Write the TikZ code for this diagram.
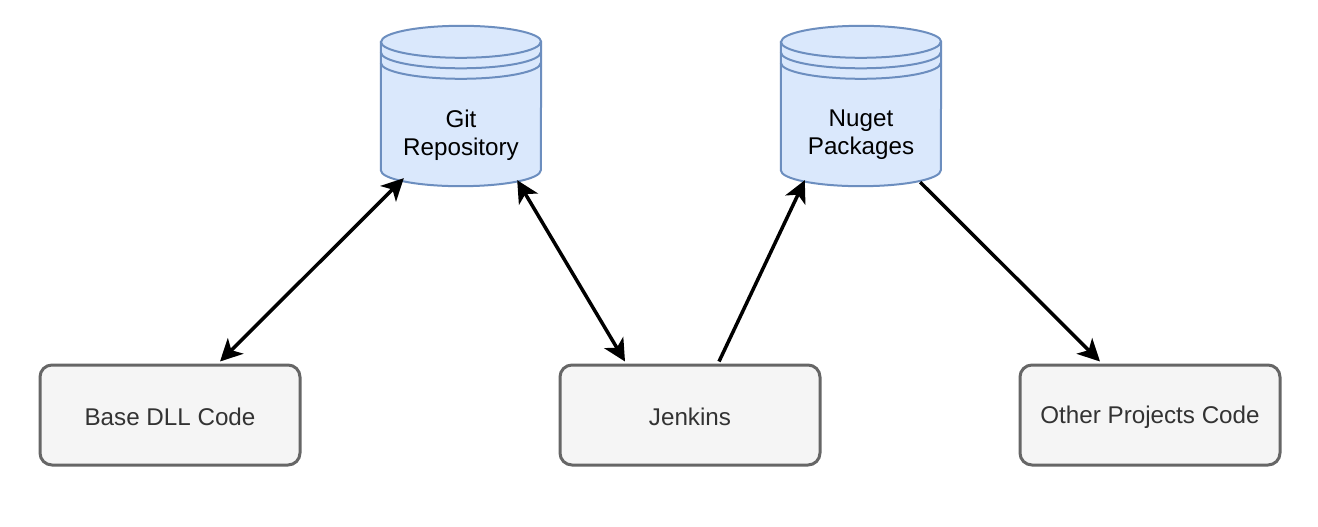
\documentclass[tikz,border=0pt]{standalone}
\usepackage{fontspec}
\setmainfont{Liberation Sans}
\usetikzlibrary{arrows.meta,calc}
\definecolor{boxfill}{HTML}{F5F5F5}
\definecolor{boxline}{HTML}{666666}
\definecolor{boxtext}{HTML}{333333}
\definecolor{cylfill}{HTML}{DAE8FC}
\definecolor{cylline}{HTML}{6C8EBF}
\tikzset{
  codebox/.style={draw=boxline, fill=boxfill, line width=3pt, rounded corners=12pt,
    minimum width=260pt, minimum height=100pt, inner sep=0pt},
  boxlabel/.style={text=boxtext, inner sep=0pt, font=\fontsize{24.2}{28}\selectfont},
  cylframe/.style={draw=none, minimum width=160pt, minimum height=160pt, inner sep=0pt},
  cyllabel/.style={align=center, text=black, font=\fontsize{24.2}{28}\selectfont, inner sep=0pt},
  cylstroke/.style={draw=cylline, line width=2pt},
  link/.style={line width=3.5pt, -{Stealth[length=22pt,width=22pt,inset=6pt]}},
  link2/.style={line width=3.5pt, {Stealth[length=22pt,width=22pt,inset=6pt]}-{Stealth[length=22pt,width=22pt,inset=6pt]}}
}
\newcommand{\mycyl}[1]{%
  \fill[cylfill] ($(#1.north west)+(0,16)$) -- ($(#1.south west)+(0,-16)$)
     arc[start angle=180,end angle=360,x radius=80pt,y radius=16pt]
     -- ($(#1.north east)+(0,16)$)
     arc[start angle=0,end angle=180,x radius=80pt,y radius=16pt] -- cycle;
  \draw[cylstroke] ($(#1.north west)+(0,16)$) -- ($(#1.south west)+(0,-16)$)
     arc[start angle=180,end angle=360,x radius=80pt,y radius=16pt]
     -- ($(#1.north east)+(0,16)$)
     arc[start angle=0,end angle=180,x radius=80pt,y radius=16pt] -- cycle;
  \draw[cylstroke] ($(#1.north west)+(0,16)$) arc[start angle=180,end angle=360,x radius=80pt,y radius=16pt];
  \draw[cylstroke] ($(#1.north west)+(0,26.5)$) arc[start angle=180,end angle=360,x radius=80pt,y radius=16pt];
  \draw[cylstroke] ($(#1.north west)+(0,37)$) arc[start angle=180,end angle=360,x radius=80pt,y radius=16pt];
}
\begin{document}
\begin{tikzpicture}[x=1pt,y=-1pt]
\useasboundingbox (0,0) rectangle (1318,527);
\fill[white] (0,0) rectangle (1318,527);

\node[cylframe] (git) at (461,106) {};
\node[cylframe] (nuget) at (861,106) {};
\mycyl{git}
\mycyl{nuget}
\node[cyllabel] (gitlabel) at (461,135) {Git\\Repository};
\node[cyllabel] (nugetlabel) at (861,135) {Nuget\\Packages};

\node[codebox] (base) at (170,415) {};
\node[codebox] (jenkins) at (690,415) {};
\node[codebox] (other) at (1150,415) {};
\node[boxlabel] (baselabel) at (170,417) {Base DLL Code};
\node[boxlabel] (jenkinslabel) at (690,417) {Jenkins};
\node[boxlabel] (otherlabel) at (1150,417) {Other Projects Code};

\draw[link2] ($(git.south west)+(23,-8)$) -- ($(base.north)+(50,-2)$);
\draw[link2] ($(git.south east)+(-24,-6)$) -- ($(jenkins.north)+(-65,-2)$);
\draw[link] ($(jenkins.north)+(29,-2)$) -- ($(nuget.south west)+(24,-6)$);
\draw[link] ($(nuget.south east)+(-21,-4)$) -- ($(other.north)+(-50,-2)$);
\end{tikzpicture}
\end{document}
